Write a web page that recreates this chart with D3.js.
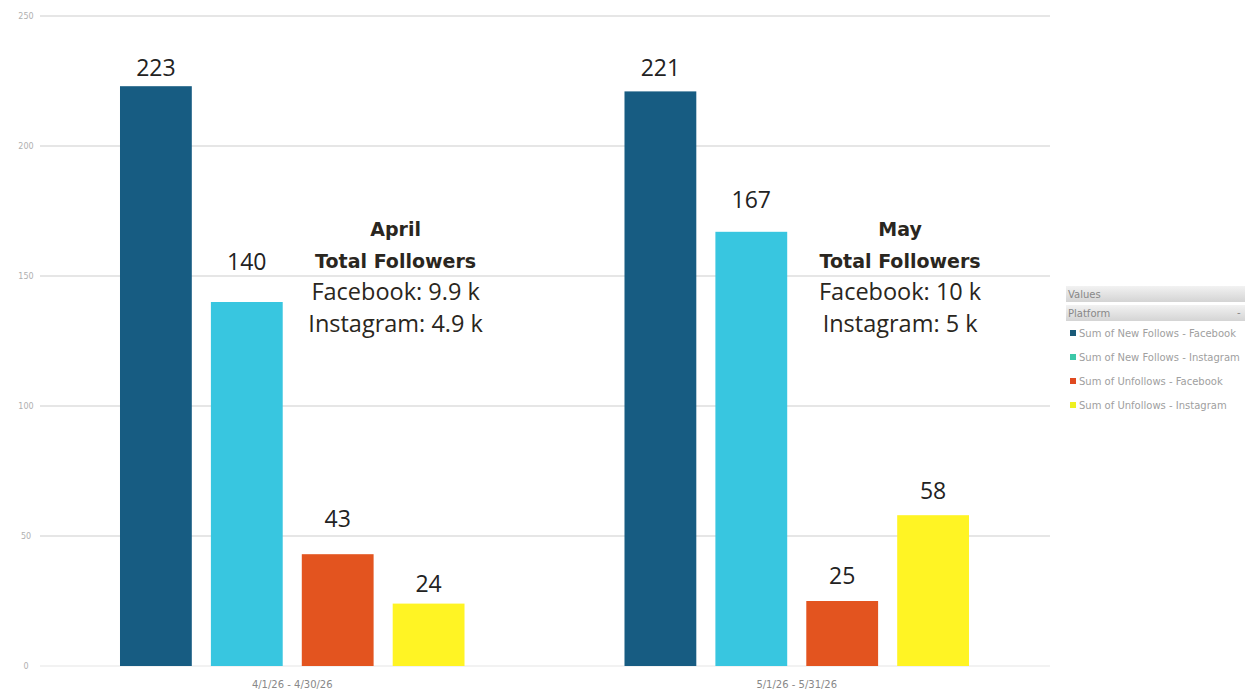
<!DOCTYPE html>
<html><head><meta charset="utf-8">
<script src="https://cdn.jsdelivr.net/npm/d3@7"></script>
<style>body{margin:0;background:#fff;}svg{display:block;}</style>
</head><body><svg id="c" width="1245" height="690"></svg>
<script>
const categories = ["4/1/26 - 4/30/26", "5/1/26 - 5/31/26"];
const seriesNames = ["Sum of New Follows - Facebook", "Sum of New Follows - Instagram", "Sum of Unfollows - Facebook", "Sum of Unfollows - Instagram"];
const newFollowsFacebook = [223, 221];
const newFollowsInstagram = [140, 167];
const unfollowsFacebook = [43, 25];
const unfollowsInstagram = [24, 58];
const yTicks = [0, 50, 100, 150, 200, 250];
const months = ["April", "May"];
const totalFacebook = ["9.9 k", "10 k"];
const totalInstagram = ["4.9 k", "5 k"];

// layout: extra lift (px) of each value label above its bar, per series then category, as placed in the original
const labelLift = [[10, 15], [32, 24], [27, 17], [12, 16]];

const barColors = ["#175c82", "#38c6e0", "#e3541f", "#fff424"];
const legendColors = ["#1a5a78", "#3cc8a8", "#e04a20", "#eef020"];
const seriesValues = [newFollowsFacebook, newFollowsInstagram, unfollowsFacebook, unfollowsInstagram];

const svg = d3.select("#c");
const y = d3.scaleLinear().domain([0, 250]).range([666, 16]);
const x0 = d3.scaleBand().domain(categories).range([40, 1049]).padding(0);
const x1 = d3.scaleBand().domain(d3.range(4)).range([0, x0.bandwidth()]).paddingInner(0.21).paddingOuter(0.88);

// gridlines
svg.append("g").selectAll("line").data(yTicks).join("line")
  .attr("x1", 40).attr("x2", 1050)
  .attr("y1", d => y(d)).attr("y2", d => y(d))
  .attr("stroke", d => d === 0 ? "#eeeeee" : "#dedede").attr("stroke-width", 1.5);

// y axis tick labels
svg.append("g").selectAll("text").data(yTicks).join("text")
  .attr("x", 26).attr("y", d => y(d) + 3)
  .attr("text-anchor", "middle")
  .attr("font-family", "DejaVu Sans, sans-serif").attr("font-size", 8)
  .attr("fill", "#b0b0b0").text(d => d);

// bars
const groups = svg.append("g").selectAll("g").data(categories).join("g")
  .attr("transform", d => `translate(${x0(d)},0)`);

groups.each(function(cat, ci) {
  const g = d3.select(this);
  const vals = seriesValues.map((s, si) => ({si, v: s[ci]}));
  g.selectAll("rect").data(vals).join("rect")
    .attr("x", d => x1(d.si)).attr("width", x1.bandwidth())
    .attr("y", d => y(d.v)).attr("height", d => y(0) - y(d.v))
    .attr("fill", d => barColors[d.si]);
  g.selectAll("text.val").data(vals).join("text").attr("class", "val")
    .attr("x", d => x1(d.si) + x1.bandwidth() / 2).attr("y", d => y(d.v) - labelLift[d.si][ci])
    .attr("text-anchor", "middle")
    .attr("font-family", "Open Sans, sans-serif").attr("font-size", 23)
    .attr("fill", "#222").text(d => d.v);
  // category label
  g.append("text")
    .attr("x", x0.bandwidth() / 2).attr("y", 688)
    .attr("text-anchor", "middle")
    .attr("font-family", "DejaVu Sans, sans-serif").attr("font-size", 10)
    .attr("fill", "#888").text(cat);
  // annotation
  const ax = x1(2) + x1.bandwidth() + 22;
  const ann = g.append("g").attr("text-anchor", "middle").attr("fill", "#2a2620");
  ann.append("text").attr("x", ax).attr("y", 236).attr("font-family", "DejaVu Sans, sans-serif").attr("font-size", 19).attr("font-weight", "bold").text(months[ci]);
  ann.append("text").attr("x", ax).attr("y", 268).attr("font-family", "DejaVu Sans, sans-serif").attr("font-size", 19).attr("font-weight", "bold").text("Total Followers");
  ann.append("text").attr("x", ax).attr("y", 300).attr("font-family", "Open Sans, sans-serif").attr("font-size", 23.5).text("Facebook: " + totalFacebook[ci]);
  ann.append("text").attr("x", ax).attr("y", 332).attr("font-family", "Open Sans, sans-serif").attr("font-size", 23.5).text("Instagram: " + totalInstagram[ci]);
});

// legend
const defs = svg.append("defs");
const grad = defs.append("linearGradient").attr("id", "hg").attr("x1", 0).attr("x2", 0).attr("y1", 0).attr("y2", 1);
grad.append("stop").attr("offset", "0%").attr("stop-color", "#f2f2f2");
grad.append("stop").attr("offset", "100%").attr("stop-color", "#d4d4d4");
const lg = svg.append("g").attr("font-family", "DejaVu Sans, sans-serif").attr("font-size", 10);
lg.append("rect").attr("x", 1066).attr("y", 286).attr("width", 179).attr("height", 16).attr("fill", "url(#hg)");
lg.append("text").attr("x", 1068).attr("y", 298).attr("fill", "#888").text("Values");
lg.append("rect").attr("x", 1066).attr("y", 305).attr("width", 179).attr("height", 16).attr("fill", "url(#hg)");
lg.append("text").attr("x", 1068).attr("y", 317).attr("fill", "#888").text("Platform");
lg.append("text").attr("x", 1237).attr("y", 316).attr("fill", "#888").text("-");
const items = lg.selectAll("g.item").data(seriesNames).join("g").attr("class", "item")
  .attr("transform", (d, i) => `translate(1070,${334 + i * 24})`);
items.append("rect").attr("x", 0).attr("y", -4).attr("width", 6).attr("height", 6).attr("fill", (d, i) => legendColors[i]);
items.append("text").attr("x", 9).attr("y", 3).attr("fill", "#a0a0a0").text(d => d);
</script></body></html>
